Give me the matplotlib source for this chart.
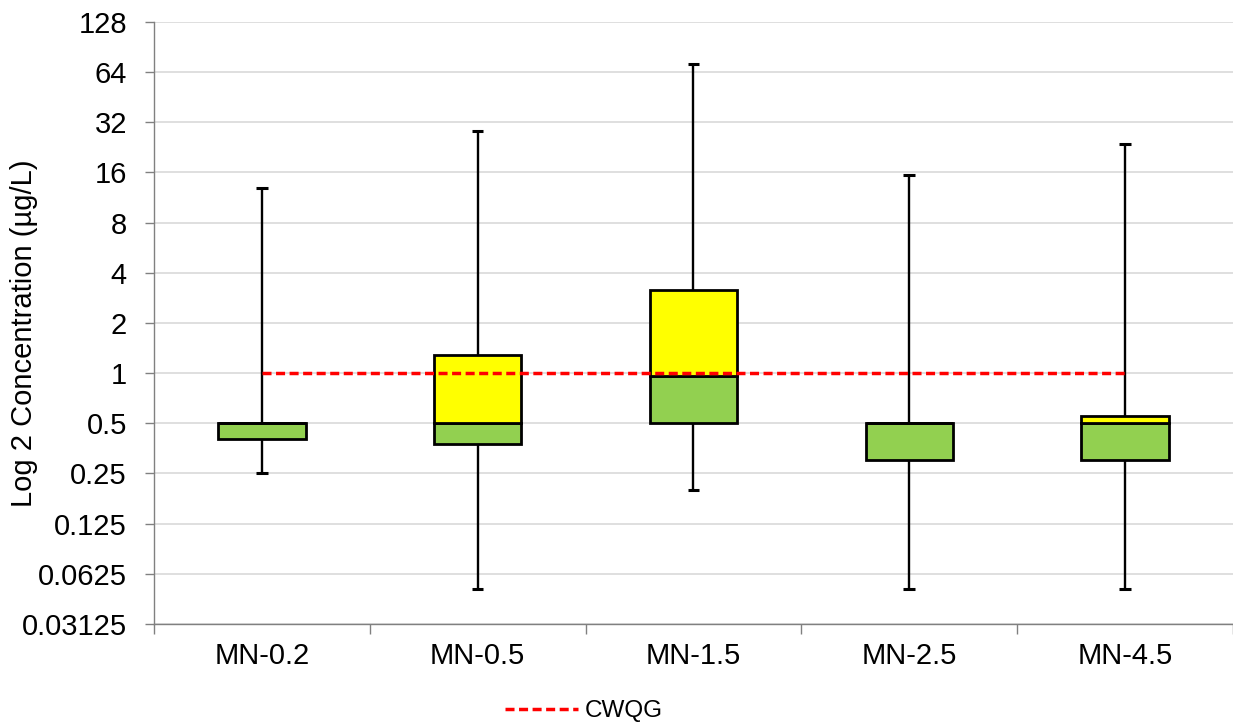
import matplotlib
matplotlib.use('Agg')
import matplotlib.pyplot as plt
from matplotlib.ticker import FixedLocator, FuncFormatter, NullFormatter
import numpy as np

plt.rcParams['font.family'] = ['Liberation Sans', 'DejaVu Sans']

# box-whisker stats (ug/L)
sites = ['MN-0.2', 'MN-0.5', 'MN-1.5', 'MN-2.5', 'MN-4.5']
whisk_max = [12.9, 28.3, 71.5, 15.5, 23.7]
q3 = [0.5, 1.29, 3.17, 0.5, 0.552]
median = [0.5, 0.5, 0.96, 0.5, 0.5]
q1 = [0.40, 0.375, 0.5, 0.302, 0.302]
whisk_min = [0.25, 0.0505, 0.20, 0.0505, 0.0505]
cwqg = [1.0, 1.0, 1.0, 1.0, 1.0]

yticks = [0.03125, 0.0625, 0.125, 0.25, 0.5, 1, 2, 4, 8, 16, 32, 64, 128]

green = '#92D050'
yellow = '#FFFF00'

fig = plt.figure(figsize=(12.33, 7.23), dpi=100)
ax = fig.add_axes([0.1249, 0.137, 0.875, 0.8326])

x = np.arange(len(sites))
w = 0.405

# lower box (Q1 -> median) and upper box (median -> Q3)
lo_h = np.array(median) - np.array(q1)
hi_h = np.array(q3) - np.array(median)
ax.bar(x, lo_h, bottom=q1, width=w, color=green, edgecolor='black',
       linewidth=2.0, zorder=3)
ax.bar(x, hi_h, bottom=median, width=w, color=yellow, edgecolor='black',
       linewidth=2.0, zorder=3)

# whiskers and caps
ax.vlines(x, q3, whisk_max, color='black', linewidth=1.7, zorder=2)
ax.vlines(x, whisk_min, q1, color='black', linewidth=1.7, zorder=2)
cap = 0.027
ax.hlines(whisk_max, x - cap, x + cap, color='black', linewidth=2.2, zorder=2)
ax.hlines(whisk_min, x - cap, x + cap, color='black', linewidth=2.2, zorder=2)

# guideline
ax.plot(x, cwqg, color='#FF0000', linewidth=2.5, linestyle=(0, (2.6, 1.3)),
        label='CWQG', zorder=4)

ax.set_yscale('log', base=2)
ax.set_ylim(0.03125, 128)
ax.yaxis.set_major_locator(FixedLocator(yticks))
ax.yaxis.set_major_formatter(FuncFormatter(lambda v, p: '%g' % v))
ax.yaxis.set_minor_locator(FixedLocator([]))
ax.grid(axis='y', color='#D9D9D9', linewidth=1.2, zorder=0)
ax.set_axisbelow(True)

ax.set_xlim(-0.5, len(sites) - 0.5)
ax.set_xticks(x)
ax.set_xticklabels(sites)
ax.set_xticks(np.arange(len(sites) + 1) - 0.5, minor=True)
ax.xaxis.set_minor_formatter(NullFormatter())
ax.tick_params(axis='x', which='major', length=0, pad=13, labelsize=21)
ax.tick_params(axis='x', which='minor', length=7, width=1, color='#808080')
ax.tick_params(axis='y', which='major', length=6.5, width=1, color='#808080',
               pad=13, labelsize=21)

for s in ['top', 'right']:
    ax.spines[s].set_visible(False)
for s in ['left', 'bottom']:
    ax.spines[s].set_color('#808080')
    ax.spines[s].set_linewidth(1.0)

fig.text(24 / 1233, 1 - 333 / 723, 'Log 2 Concentration (µg/L)', fontsize=21,
         rotation=90, ha='center', va='center')

fig.legend(loc='center', bbox_to_anchor=(584 / 1233, 1 - 711 / 723),
           frameon=False, fontsize=17.5, handlelength=3.0, handletextpad=0.25)

fig.savefig('out.png', dpi=100)
